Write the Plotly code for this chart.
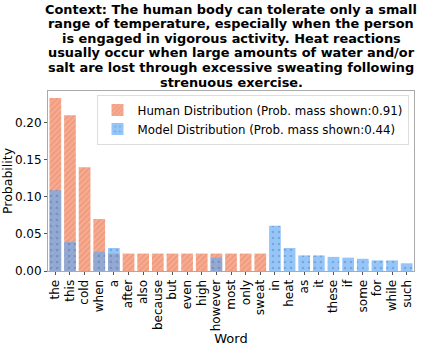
import plotly.graph_objects as go

words = ["the", "this", "cold", "when", "a", "after", "also", "because", "but", "even",
         "high", "however", "most", "only", "sweat", "in", "heat", "as", "it", "these",
         "if", "some", "for", "while", "such"]
human_prob = [0.233, 0.210, 0.140, 0.070, 0.0235, 0.0235, 0.0235, 0.0235, 0.0235, 0.0235,
              0.0235, 0.0235, 0.0235, 0.0235, 0.0235, 0, 0, 0, 0, 0,
              0, 0, 0, 0, 0]
model_prob = [0.109, 0.039, 0, 0.026, 0.031, 0, 0, 0, 0, 0,
              0, 0.018, 0, 0, 0, 0.061, 0.031, 0.021, 0.021, 0.019,
              0.018, 0.0165, 0.0143, 0.0143, 0.0104]
human_mass = 0.91
model_mass = 0.44

title_lines = ["Context: The human body can tolerate only a small",
               "range of temperature, especially when the person",
               "is engaged in vigorous activity. Heat reactions",
               "usually occur when large amounts of water and/or",
               "salt are lost through excessive sweating following",
               "strenuous exercise."]

fig = go.Figure()
fig.add_bar(x=words, y=human_prob,
            name=f"Human Distribution (Prob. mass shown:{human_mass:.2f})",
            marker=dict(color="rgba(242,125,85,0.65)", line=dict(width=0),
                        pattern=dict(shape="/", fgcolor="rgba(215,95,60,0.7)",
                                     size=4, solidity=0.25)))
fig.add_bar(x=words, y=model_prob,
            name=f"Model Distribution (Prob. mass shown:{model_mass:.2f})",
            marker=dict(color="rgba(100,170,245,0.68)", line=dict(width=0),
                        pattern=dict(shape=".", fgcolor="rgba(60,90,140,0.6)",
                                     size=6, solidity=0.15)))

# title: one annotation per line, matplotlib-like tight line spacing
for i, line in enumerate(title_lines):
    fig.add_annotation(text=f"<b>{line}</b>", xref="paper", yref="paper", x=0.5, y=1,
                       xanchor="center", yanchor="middle", yshift=82 - i * 14.6,
                       showarrow=False, font=dict(size=12.9))

fig.update_layout(
    width=425, height=346,
    barmode="overlay", bargap=0.2,
    plot_bgcolor="white", paper_bgcolor="white",
    font=dict(family="DejaVu Sans", color="black", size=12),
    margin=dict(l=48, r=11, t=91, b=75),
    legend=dict(x=0.985, y=0.98, xanchor="right", yanchor="top",
                bordercolor="#dddddd", borderwidth=1, bgcolor="rgba(255,255,255,0.8)",
                font=dict(size=11.8), tracegroupgap=0, itemwidth=30),
    showlegend=True,
)
fig.update_xaxes(title=dict(text="Word", standoff=2, font=dict(size=13)), tickangle=-90,
                 tickmode="linear", dtick=1, automargin=False,
                 showline=True, linecolor="#aaaaaa", mirror=True, ticks="outside",
                 ticklen=3, tickcolor="#555", tickfont=dict(size=12))
fig.update_yaxes(title=dict(text="Probability", standoff=3, font=dict(size=12.5)),
                 range=[0, 0.2426], tickvals=[0, 0.05, 0.10, 0.15, 0.20], tickformat=".2f",
                 automargin=False,
                 showline=True, linecolor="#aaaaaa", mirror=True, showgrid=False,
                 ticks="outside", ticklen=3, tickcolor="#555", tickfont=dict(size=12))

fig.write_html("out.html", config={"displayModeBar": False},
               post_script="document.body.style.margin='0';")
